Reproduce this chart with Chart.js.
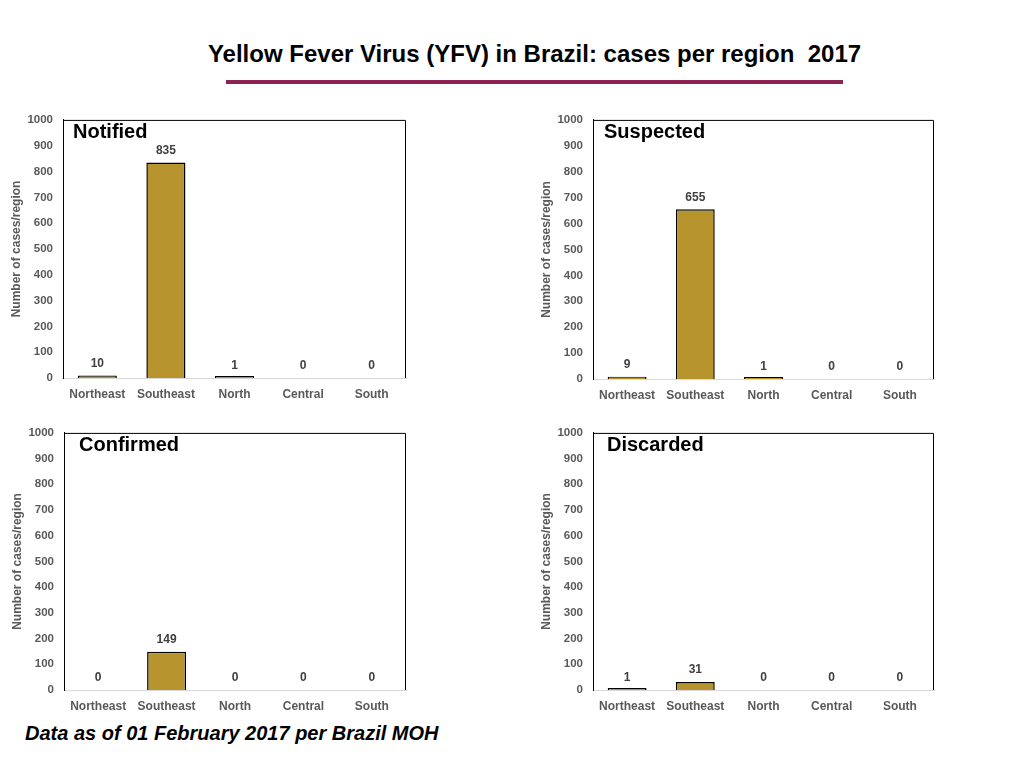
<!DOCTYPE html>
<html>
<head>
<meta charset="utf-8">
<script src="https://cdn.jsdelivr.net/npm/chart.js@4"></script>
<style>
  html, body { margin: 0; padding: 0; background: #fff; }
  body { width: 1024px; height: 768px; position: relative; overflow: hidden; font-family: "Liberation Sans", Arial, sans-serif; }
  #mainTitle { position: absolute; left: 0; width: 1069px; top: 38px; text-align: center; font-weight: bold; font-size: 24px; color: #000; white-space: pre; line-height: 32px; }
  #rule { position: absolute; left: 226px; top: 80px; width: 617px; height: 4px; background: #8B2355; }
  #footer { position: absolute; left: 25px; top: 719px; font-weight: bold; font-style: italic; font-size: 20px; color: #000; line-height: 28px; }
  .box { position: absolute; }
</style>
</head>
<body>
<div id="mainTitle">Yellow Fever Virus (YFV) in Brazil: cases per region  2017</div>
<div id="rule"></div>
<div id="footer">Data as of 01 February 2017 per Brazil MOH</div>
<div class="box" id="b1"><canvas id="c1"></canvas></div>
<div class="box" id="b2"><canvas id="c2"></canvas></div>
<div class="box" id="b3"><canvas id="c3"></canvas></div>
<div class="box" id="b4"><canvas id="c4"></canvas></div>
<script>
// ---- data ----
const regions = ["Northeast", "Southeast", "North", "Central", "South"];
const notified = [10, 835, 1, 0, 0];
const suspected = [9, 655, 1, 0, 0];
const confirmed = [0, 149, 0, 0, 0];
const discarded = [1, 31, 0, 0, 0];
const yTicks = [0, 100, 200, 300, 400, 500, 600, 700, 800, 900, 1000];
const panelTitles = ["Notified", "Suspected", "Confirmed", "Discarded"];
const yAxisTitle = "Number of cases/region";

// ---- layout ----
const FONT = "'Liberation Sans', Arial, sans-serif";
// the y-axis reserves ~17px above the chart area (half label height + tick padding)
const YW = 63, PT = 17, PR = 12, XH = 32;
const panels = [
  { id: "c1", box: "b1", area: { l: 63, t: 120, r: 406, b: 378 }, values: notified, title: panelTitles[0], tdx: 10 },
  { id: "c2", box: "b2", area: { l: 593, t: 120, r: 934, b: 379 }, values: suspected, title: panelTitles[1], tdx: 11 },
  { id: "c3", box: "b3", area: { l: 64, t: 433, r: 406, b: 690 }, values: confirmed, title: panelTitles[2], tdx: 15 },
  { id: "c4", box: "b4", area: { l: 593, t: 433, r: 934, b: 690 }, values: discarded, title: panelTitles[3], tdx: 14 }
];

const framePlugin = {
  id: "frame",
  afterDatasetsDraw(chart, args, opts) {
    const { ctx, chartArea: a, scales } = chart;
    ctx.save();
    // value labels
    ctx.font = "bold 12px " + FONT;
    ctx.fillStyle = "#404040";
    ctx.textAlign = "center";
    ctx.textBaseline = "middle";
    opts.values.forEach((v, i) => {
      const x = scales.x.getPixelForValue(i);
      const y = scales.y.getPixelForValue(v);
      ctx.fillText(String(v), x, Math.min(y, scales.y.getPixelForValue(1)) - 12);
    });
    // frame top/right
    ctx.strokeStyle = "#000";
    ctx.lineWidth = 1;
    ctx.beginPath();
    ctx.moveTo(a.left, a.top + 0.5);
    ctx.lineTo(a.right - 0.5, a.top + 0.5);
    ctx.lineTo(a.right - 0.5, a.bottom);
    ctx.stroke();
    // panel title
    ctx.font = "bold 20px " + FONT;
    ctx.fillStyle = "#000";
    ctx.textAlign = "left";
    ctx.textBaseline = "middle";
    ctx.fillText(opts.title, a.left + opts.tdx, a.top + 13);
    ctx.restore();
  }
};

panels.forEach(p => {
  const w = (p.area.r - p.area.l) + YW + PR;
  const h = (p.area.b - p.area.t) + PT + XH;
  const box = document.getElementById(p.box);
  box.style.left = (p.area.l - YW) + "px";
  box.style.top = (p.area.t - PT) + "px";
  box.style.width = w + "px";
  box.style.height = h + "px";
  const cv = document.getElementById(p.id);
  cv.width = w; cv.height = h;
  cv.style.width = w + "px"; cv.style.height = h + "px";
  new Chart(cv, {
    type: "bar",
    data: {
      labels: regions,
      datasets: [{
        data: p.values.map(v => (v === 0 ? null : v)),
        backgroundColor: "#B8942F",
        borderColor: "#000",
        borderWidth: 1.5,
        borderSkipped: "bottom",
        minBarLength: 2,
        categoryPercentage: 1,
        barPercentage: 0.57
      }]
    },
    options: {
      responsive: false,
      animation: false,
      devicePixelRatio: 1,
      layout: { padding: { top: 0, right: PR, left: 0, bottom: 0 } },
      plugins: {
        legend: { display: false },
        tooltip: { enabled: false },
        frame: { values: p.values, title: p.title, tdx: p.tdx }
      },
      scales: {
        x: {
          grid: { display: false, drawTicks: false },
          border: { display: true, color: "#d9d9d9", width: 1 },
          ticks: { color: "#595959", font: { family: FONT, size: 12, weight: "bold" }, padding: 9, maxRotation: 0, autoSkip: false },
          afterFit(s) { s.height = XH; }
        },
        y: {
          min: 0, max: 1000,
          afterBuildTicks(s) { s.ticks = yTicks.map(v => ({ value: v })); },
          grid: { display: false, drawTicks: false },
          border: { display: true, color: "#000", width: 1 },
          ticks: { color: "#595959", font: { family: FONT, size: 11.5, weight: "bold" }, padding: 10, callback: v => String(v) },
          title: { display: true, text: yAxisTitle, color: "#595959", font: { family: FONT, size: 12, weight: "bold" }, padding: { top: 9, bottom: 0 } },
          afterFit(s) { s.width = YW; }
        }
      }
    },
    plugins: [framePlugin]
  });
});
</script>
</body>
</html>
